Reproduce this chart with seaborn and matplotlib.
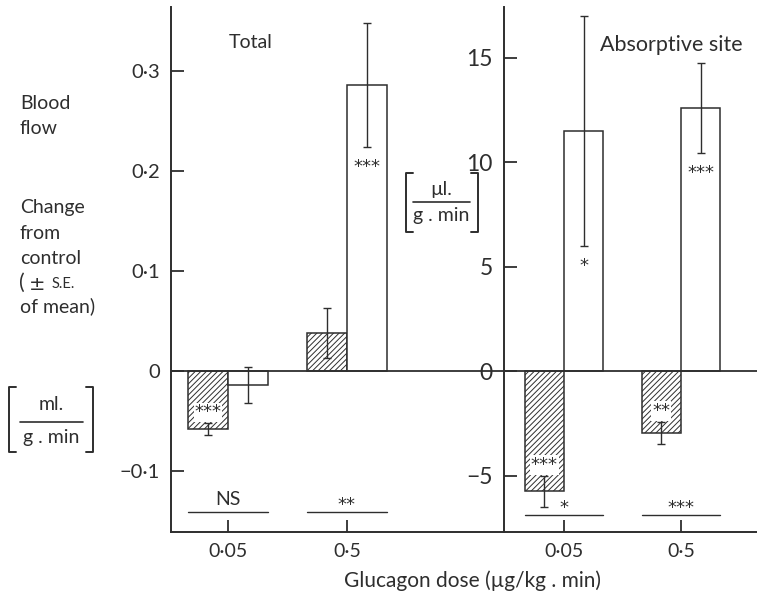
import matplotlib
matplotlib.use("Agg")
import matplotlib.pyplot as plt
from matplotlib.lines import Line2D
import seaborn as sns
import pandas as pd

# ---------------- data ----------------
doses = ["0·05", "0·5"]
series = ["hatched", "open"]

total_hatched = [-0.058, 0.038]
total_hatched_se = [0.006, 0.025]
total_open = [-0.014, 0.286]
total_open_se = [0.018, 0.062]

abs_hatched = [-5.75, -2.95]
abs_hatched_se = [0.75, 0.52]
abs_open = [11.5, 12.6]
abs_open_se = [5.5, 2.15]

total_hatched_sig = ["***", ""]
total_open_sig = ["", "***"]
abs_hatched_sig = ["***", "**"]
abs_open_sig = ["*", "***"]
total_pair_sig = ["NS", "**"]
abs_pair_sig = ["*", "***"]

total_yticks = [-0.1, 0, 0.1, 0.2, 0.3]
total_yticklabels = ["\u22120·1", "0", "0·1", "0·2", "0·3"]
abs_yticks = [-5, 0, 5, 10, 15]
abs_yticklabels = ["\u22125", "0", "5", "10", "15"]

# ---------------- style ----------------
sns.set_theme(style="white")
plt.rcParams["font.family"] = ["Lato", "DejaVu Sans"]
plt.rcParams["hatch.linewidth"] = 0.7
INK = "#2e2e2e"
plt.rcParams["hatch.color"] = INK
plt.rcParams["text.color"] = INK
STAR_FONT = ["DejaVu Sans"]

W, H = 757, 595
fig = plt.figure(figsize=(W / 100, H / 100), dpi=100)


def fx(px):
    return px / W


def fy(py):
    return 1 - py / H


ax1 = fig.add_axes([fx(171), fy(532), (504 - 171) / W, (532 - 7) / H])
ax2 = fig.add_axes([fx(504), fy(532), (757 - 504) / W, (532 - 7) / H])


def star_text(ax, s, xy, dy_pt, bg=False, xycoords="data"):
    # asterisks: centre of the glyph ~7pt above the baseline
    bbox = dict(boxstyle="square,pad=0.05", fc="white", ec="none") if bg else None
    ax.annotate(s, xy, xycoords=xycoords, xytext=(0, dy_pt - 7),
                textcoords="offset points", ha="center", va="baseline",
                fontsize=13, family=STAR_FONT, color=INK, bbox=bbox, zorder=5)


def panel(ax, hatched, hatched_se, opn, opn_se, hsig, osig, psig,
          yticks, yticklabels, ylim, xlim, title, title_xy, title_fs,
          pair_y, tick_fs):
    df = pd.DataFrame({
        "dose": doses * 2,
        "series": [series[0]] * 2 + [series[1]] * 2,
        "value": hatched + opn,
    })
    sns.barplot(data=df, x="dose", y="value", hue="series", hue_order=series,
                order=doses, palette={s: "white" for s in series},
                edgecolor=INK, linewidth=1.1, width=0.67, errorbar=None,
                legend=False, ax=ax)
    for patch in ax.containers[0]:
        patch.set_hatch("//////")
    vals = [hatched, opn]
    ses = [hatched_se, opn_se]
    sigs = [hsig, osig]
    for k, cont in enumerate(ax.containers[:2]):
        for i, patch in enumerate(cont):
            xc = patch.get_x() + patch.get_width() / 2
            v, e = vals[k][i], ses[k][i]
            ax.errorbar(xc, v, yerr=e, fmt="none", ecolor=INK, elinewidth=1.0,
                        capsize=2.7, capthick=1.0, zorder=4)
            s = sigs[k][i]
            if s:
                end = v - e if v > 0 else v + e
                dy = -11 if v > 0 else 11
                star_text(ax, s, (xc, end), dy, bg=(k == 0))
    # pair significance lines
    for i in range(len(doses)):
        b0 = ax.containers[0][i]
        b1 = ax.containers[1][i]
        x0 = b0.get_x()
        x1 = b1.get_x() + b1.get_width()
        ax.plot([x0, x1], [pair_y, pair_y], color=INK, lw=1.0,
                transform=ax.get_xaxis_transform(), clip_on=False)
        if psig[i] == "NS":
            ax.annotate(psig[i], ((x0 + x1) / 2, pair_y), xycoords=ax.get_xaxis_transform(),
                        xytext=(0, 9), textcoords="offset points", ha="center",
                        va="center", fontsize=14, color=INK)
        else:
            star_text(ax, psig[i], ((x0 + x1) / 2, pair_y), 8.5,
                      xycoords=ax.get_xaxis_transform())
    ax.axhline(0, color=INK, lw=1.3, zorder=3)
    ax.set_ylim(*ylim)
    ax.set_xlim(*xlim)
    ax.set_yticks(yticks, yticklabels)
    ax.set_xlabel("")
    ax.set_ylabel("")
    ax.tick_params(axis="both", direction="in", length=9, width=1.3,
                   colors=INK, labelsize=14, pad=8, left=True, bottom=True)
    ax.tick_params(axis="y", labelsize=tick_fs)
    for side in ["top", "right"]:
        ax.spines[side].set_visible(False)
    for side in ["left", "bottom"]:
        ax.spines[side].set_color(INK)
        ax.spines[side].set_linewidth(1.4)
    ax.patch.set_alpha(0)
    ax.text(title_xy[0], title_xy[1], title, transform=fig.transFigure,
            ha="center", va="center", fontsize=title_fs, color=INK)


panel(ax1, total_hatched, total_hatched_se, total_open, total_open_se,
      total_hatched_sig, total_open_sig, total_pair_sig,
      total_yticks, total_yticklabels, (-0.161, 0.364), (-0.479, 2.32),
      "Total", (fx(251), fy(43)), 14, 0.038, 14.5)
panel(ax2, abs_hatched, abs_hatched_se, abs_open, abs_open_se,
      abs_hatched_sig, abs_open_sig, abs_pair_sig,
      abs_yticks, abs_yticklabels, (-7.70, 17.42), (-0.513, 1.65),
      "Absorptive site", (fx(671), fy(45)), 15.5, 0.033, 16.5)

# left-side label block
for txt, py in [("Blood", 103), ("flow", 129), ("Change", 208), ("from", 234),
                ("control", 259)]:
    fig.text(fx(20), fy(py), txt, ha="left", va="center", fontsize=14, color=INK)
fig.text(fx(19), fy(283), "(", ha="left", va="center", fontsize=15, color=INK)
fig.text(fx(29), fy(284), "±", ha="left", va="center", fontsize=14, color=INK,
         family=["DejaVu Sans"])
fig.text(fx(52), fy(284), "S.E.", ha="left", va="center", fontsize=10.5, color=INK)
fig.text(fx(20), fy(306), "of mean)", ha="left", va="center", fontsize=14, color=INK)


def unit_bracket(x0, x1, y0, y1, top, bottom, ytop, ybot, yline, lx0, lx1):
    arm = 7
    for xs, ys in [([x0 + arm, x0, x0, x0 + arm], [y0, y0, y1, y1]),
                   ([x1 - arm, x1, x1, x1 - arm], [y0, y0, y1, y1]),
                   ([lx0, lx1], [yline, yline])]:
        fig.add_artist(Line2D([fx(v) for v in xs], [fy(v) for v in ys],
                              color=INK, lw=1.4 if len(xs) > 2 else 1.2,
                              transform=fig.transFigure))
    xc = (lx0 + lx1) / 2
    fig.text(fx(xc), fy(ytop), top, ha="center", va="center", fontsize=14, color=INK)
    fig.text(fx(xc), fy(ybot), bottom, ha="center", va="center", fontsize=14, color=INK)


unit_bracket(9, 93, 387, 452, "ml.", "g . min", 404, 438, 422, 20, 83)
unit_bracket(406, 478, 173, 232, "µl.", "g . min", 189, 216, 202, 413, 470)

fig.text(fx(472), fy(581), "Glucagon dose (µg/kg . min)", ha="center", va="center",
         fontsize=15, color=INK)

fig.savefig("out.png", dpi=100, facecolor="white")
